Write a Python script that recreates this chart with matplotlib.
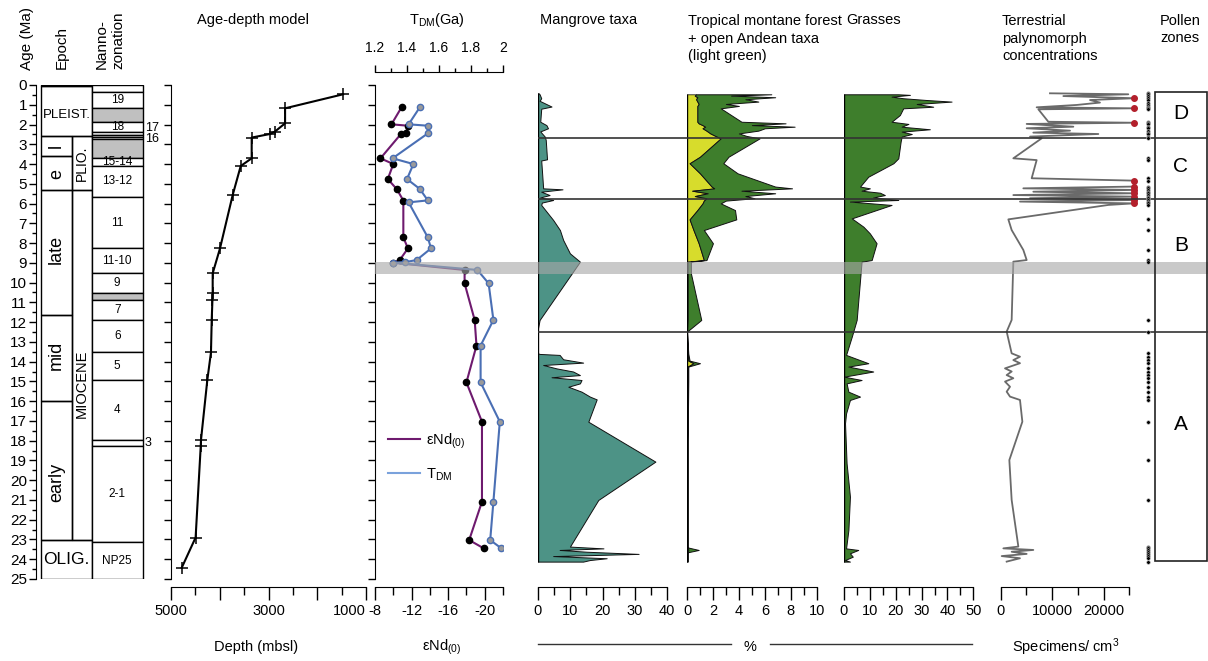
import matplotlib
matplotlib.use("Agg")
import numpy as np
import matplotlib.pyplot as plt
from matplotlib.patches import Rectangle
from matplotlib.lines import Line2D
from matplotlib.ticker import MultipleLocator, FuncFormatter

plt.rcParams['font.family'] = ['Liberation Sans', 'DejaVu Sans']
plt.rcParams['mathtext.fontset'] = 'custom'
plt.rcParams['mathtext.rm'] = 'Liberation Sans'
plt.rcParams['mathtext.it'] = 'Liberation Sans:italic'
plt.rcParams['mathtext.bf'] = 'Liberation Sans:bold'

# --- stratigraphy -----------------------------------------------------------
epoch_names = ['', 'PLEIST.', 'OLIG.', 'l', 'e', 'late', 'mid', 'early', 'PLIO.', 'MIOCENE']
epoch_top = [0.0, 0.07, 23.03, 2.58, 3.60, 5.33, 11.63, 15.97, 2.58, 5.33]
epoch_base = [0.07, 2.58, 25.0, 3.60, 5.33, 11.63, 15.97, 23.03, 5.33, 23.03]
epoch_col = ['full', 'full', 'full', 'sub', 'sub', 'sub', 'sub', 'sub', 'ser', 'ser']
epoch_label_age = [0.0, 1.5, 24.0, 3.1, 4.5, 8.3, 13.7, 20.1, 3.96, 15.1]

nanno_top = [0.0, 0.37, 1.18, 1.88, 2.39, 2.53, 2.63, 2.75, 3.71, 4.08, 5.65, 8.27, 9.53,
             10.54, 10.88, 11.89, 13.53, 14.93, 17.97, 18.27, 23.14]
nanno_base = [0.37, 1.18, 1.88, 2.39, 2.53, 2.63, 2.75, 3.71, 4.08, 5.65, 8.27, 9.53, 10.54,
              10.88, 11.89, 13.53, 14.93, 17.97, 18.27, 23.14, 25.0]
nanno_label = ['', '19', '', '18', '', '', '', '', '15-14', '13-12', '11', '11-10', '9',
               '', '7', '6', '5', '4', '', '2-1', 'NP25']
nanno_grey = [0, 0, 1, 0, 0, 0, 0, 1, 0, 0, 0, 0, 0, 1, 0, 0, 0, 0, 0, 0, 0]
nanno_side_label = ['17', '16', '3']
nanno_side_age = [2.2, 2.75, 18.1]

# --- age-depth model ----------------------------------------------------------
ad_age = [0.47, 1.18, 1.94, 2.36, 2.48, 2.66, 3.71, 4.10, 5.57, 8.27, 9.53, 10.54,
          10.88, 11.89, 13.53, 14.93, 17.97, 18.27, 22.90, 24.43]
ad_depth = [1470, 2660, 2660, 2870, 2970, 3345, 3345, 3570, 3735, 3995, 4145, 4145,
            4150, 4165, 4180, 4255, 4385, 4390, 4495, 4780]
depth_ticks = [5000, 4000, 3000, 2000, 1000]
depth_labels = ['5000', '', '3000', '', '1000']

# --- Nd isotopes ----------------------------------------------------------------
end_age = [1.13, 1.99, 2.06, 2.41, 2.50, 3.71, 4.00, 4.76, 5.28, 5.85, 7.71, 8.27,
           8.86, 8.99, 9.36, 10.04, 11.89, 13.19, 15.05, 17.04, 21.09, 23.03, 23.45]
end_val = [-10.9, -9.8, -11.6, -11.4, -10.8, -8.6, -10.0, -9.4, -10.4, -11.1, -11.1, -11.6,
           -10.7, -10.0, -17.8, -17.8, -18.9, -19.1, -18.0, -19.7, -19.7, -18.3, -19.9]
tdm_age = [1.13, 1.99, 2.06, 2.45, 3.71, 4.00, 4.76, 5.26, 5.84, 5.94, 7.71, 8.27,
           8.86, 8.96, 8.99, 9.36, 10.04, 11.89, 13.19, 15.05, 17.04, 21.09, 23.03, 23.45]
tdm_val = [1.48, 1.41, 1.53, 1.53, 1.31, 1.44, 1.40, 1.48, 1.53, 1.41, 1.53, 1.55,
           1.46, 1.39, 1.31, 1.84, 1.91, 1.94, 1.86, 1.86, 1.98, 1.94, 1.92, 1.99]

# --- pollen ---------------------------------------------------------------------
mang_age = [0.42, 0.47, 0.67, 0.80, 1.09, 1.20, 1.86, 2.03, 2.19, 2.35, 2.61, 2.78, 3.76,
            3.82, 5.23, 5.28, 5.40, 5.57, 5.69, 5.82, 5.95, 6.07, 6.83, 7.34, 7.84, 8.52,
            8.94, 11.89, 12.31, 13.58, 13.61, 13.66, 13.88, 14.05, 14.17, 14.34, 14.50,
            14.68, 14.79, 14.93, 15.10, 15.27, 15.52, 15.77, 15.91, 17.04, 19.06, 21.00,
            23.36, 23.45, 23.53, 23.62, 23.73, 23.84, 23.95, 24.04, 24.12]
mang_pct = [0.2, 0.5, 1.0, 0.5, 4.2, 1.0, 0.7, 2.6, 3.1, 0.7, 2.1, 2.4, 2.8,
            1.0, 1.6, 7.6, 1.0, 3.6, 0.7, 4.7, 1.2, 1.0, 4.7, 6.8, 7.8, 9.9,
            13.0, 0.5, 0.0, 0.0, 0.5, 6.7, 7.8, 14.0, 1.6, 5.7, 10.9,
            13.0, 4.2, 13.5, 13.0, 9.4, 13.5, 16.1, 18.2, 15.6, 36.4, 18.7,
            9.9, 20.3, 6.7, 15.1, 31.2, 4.7, 21.3, 16.1, 14.0]

mont_age = [0.47, 0.54, 0.62, 0.72, 0.84, 0.96, 1.06, 1.18, 1.86, 1.94, 2.03, 2.11, 2.19,
            2.31, 2.45, 2.58, 2.70, 3.63, 3.96, 4.47, 5.14, 5.23, 5.35, 5.48, 5.62, 5.73,
            5.85, 5.99, 6.33, 6.80, 7.34, 8.01, 8.86, 8.94, 9.53, 11.89, 12.48, 13.60,
            13.95, 14.08, 14.25, 15.0, 18.0, 21.0, 23.40, 23.53, 23.65, 24.12]
andean_pct = [0.7, 0.6, 0.8, 0.7, 0.8, 0.9, 0.8, 0.8, 0.8, 0.9, 1.2, 1.4, 1.2,
              1.5, 1.8, 2.2, 2.6, 1.0, 0.2, 1.0, 1.9, 2.1, 0.4, 1.6, 0.6, 1.5,
              1.3, 1.2, 0.8, 0.2, 0.5, 0.9, 1.3, 0.05, 0.05, 0.05, 0.0, 0.05,
              0.1, 0.5, 0.05, 0.05, 0.02, 0.02, 0.02, 0.1, 0.02, 0.02]
mont_total_pct = [6.5, 3.4, 6.8, 4.5, 5.5, 3.0, 4.0, 2.6, 4.2, 7.6, 5.0, 8.3, 6.0,
                  5.5, 4.0, 4.6, 5.6, 3.2, 2.8, 3.9, 6.8, 8.1, 4.2, 6.8, 4.5, 5.2,
                  3.0, 2.6, 3.7, 3.8, 1.3, 2.0, 1.5, 0.3, 0.3, 1.1, 0.0, 0.1,
                  0.2, 1.0, 0.1, 0.1, 0.05, 0.05, 0.05, 0.9, 0.05, 0.05]

grass_age = [0.47, 0.50, 0.59, 0.67, 0.76, 0.84, 0.96, 1.10, 1.18, 1.52, 1.86, 1.97, 2.11,
             2.24, 2.36, 2.48, 2.61, 2.87, 3.71, 3.96, 4.64, 5.14, 5.23, 5.35, 5.45, 5.57,
             5.69, 5.82, 5.90, 6.07, 6.75, 7.17, 7.51, 8.01, 8.86, 8.94, 11.89, 12.74,
             13.66, 14.08, 14.25, 14.50, 14.76, 14.93, 15.10, 15.52, 15.77, 15.94, 16.62,
             17.12, 19.14, 20.83, 22.52, 23.45, 23.53, 23.70, 23.87, 24.04, 24.12]
grass_pct = [21.0, 25.5, 18.4, 22.9, 32.0, 41.6, 28.1, 34.5, 22.9, 21.6, 18.4, 24.9, 22.3,
             33.2, 22.3, 26.2, 22.3, 21.9, 21.0, 19.1, 9.4, 6.2, 10.0, 6.8, 13.9, 15.8,
             11.3, 21.0, 2.3, 18.4, 3.0, 7.5, 10.0, 12.6, 10.7, 6.8, 4.9, 3.0,
             0.8, 9.4, 1.7, 11.3, 0.0, 6.8, 1.0, 1.7, 6.2, 2.3, 0.8,
             0.4, 1.0, 2.3, 1.7, 0.8, 5.5, 2.3, 3.4, 0.4, 2.3]

conc_age = [0.42, 0.47, 0.56, 0.67, 0.76, 0.89, 1.01, 1.13, 1.18, 1.23, 1.86, 1.91, 1.97,
            2.11, 2.19, 2.31, 2.41, 2.48, 2.61, 2.70, 3.71, 3.80, 4.72, 4.84, 5.14, 5.23,
            5.31, 5.40, 5.48, 5.57, 5.65, 5.73, 5.82, 5.90, 5.99, 6.07, 6.80, 7.34, 8.35,
            8.86, 8.94, 11.89, 12.48, 13.58, 13.75, 13.92, 14.08, 14.34, 14.50, 14.68,
            14.84, 15.01, 15.27, 15.52, 15.77, 15.94, 17.04, 18.98, 21.00, 23.36, 23.45,
            23.53, 23.62, 23.73, 23.84, 23.95, 24.12]
conc_val = [9580, 24800, 12180, 25900, 17360, 19300, 14770, 6990, 25900, 7320, 9260, 25900,
            5050, 14120, 5050, 13470, 6340, 18980, 5700, 7960, 2455, 6990, 6020, 25900,
            25900, 4400, 25900, 6340, 25900, 2455, 25900, 5700, 25900, 3750, 25900, 20920,
            1485, 2130, 4400, 5050, 2455, 2130, 1160, 2130, 3750, 2455, 3750, 836, 2130,
            1160, 2455, 836, 1810, 1160, 1810, 3750, 4210, 1680, 2130, 3430, 510, 6340,
            2130, 5050, 190, 3750, 1160]
conc_max = 25000

# --- zones -----------------------------------------------------------------------
band_age = [8.96, 9.57]
zone_bounds = [2.67, 5.77, 12.48]
zone_box = [0.37, 24.1]
zone_letters = ['D', 'C', 'B', 'A']
zone_letter_age = [1.43, 4.13, 8.1, 17.2]

# colours
TEAL = '#4d9386'
GREEN = '#3e7e2c'
YELLOW = '#d7dc2c'
PURPLE = '#6e1a6e'
BLUE = '#4a6fb4'

W, H = 1208, 661
TOP, BOT = 85, 579  # pixel rows of 0 Ma and 25 Ma

fig = plt.figure(figsize=(W / 100, H / 100), dpi=100)


def fx(px):
    return px / W


def fy(py):
    return 1 - py / H


def age_axes(x0, x1):
    ax = fig.add_axes([fx(x0), fy(BOT), (x1 - x0) / W, (BOT - TOP) / H])
    ax.set_ylim(25, 0)
    ax.patch.set_visible(False)
    for s in ['top', 'right']:
        ax.spines[s].set_visible(False)
    return ax


def bottom_axis(ax, major, minor, fmt=None):
    ax.spines['bottom'].set_position(('outward', 5.8))
    ax.xaxis.set_major_locator(MultipleLocator(major))
    ax.xaxis.set_minor_locator(MultipleLocator(minor))
    ax.tick_params(axis='x', which='major', direction='out', length=9, width=1,
                   labelsize=10.5, pad=3)
    ax.tick_params(axis='x', which='minor', direction='out', length=5.5, width=1)
    if fmt is not None:
        ax.xaxis.set_major_formatter(FuncFormatter(fmt))


def left_ticks(ax):
    ax.yaxis.set_major_locator(MultipleLocator(1))
    ax.tick_params(axis='y', which='major', direction='out', length=5, width=1,
                   labelleft=False)


# --- stratigraphic columns -----------------------------------------------------
ax_s = age_axes(36, 160)
ax_s.set_xlim(36, 160)
ax_s.spines['bottom'].set_visible(False)
ax_s.set_xticks([])
ax_s.yaxis.set_major_locator(MultipleLocator(1))
ax_s.yaxis.set_minor_locator(MultipleLocator(0.5))
ax_s.tick_params(axis='y', which='major', length=5, width=1, labelsize=11, pad=1.5)
ax_s.tick_params(axis='y', which='minor', length=3, width=1)

col_x = {'full': (41, 91.7), 'sub': (41, 71.7), 'ser': (71.7, 91.7)}
for name, t, b, c, la in zip(epoch_names, epoch_top, epoch_base, epoch_col, epoch_label_age):
    x0, x1 = col_x[c]
    ax_s.add_patch(Rectangle((x0, t), x1 - x0, b - t, fill=False, lw=1, ec='black'))
    if name:
        rot = 0 if c == 'full' else 90
        size = {'PLEIST.': 9.5, 'OLIG.': 12.5, 'PLIO.': 10, 'MIOCENE': 10.5}.get(name, 13)
        ax_s.text((x0 + x1) / 2, la, name, rotation=rot, ha='center', va='center',
                  fontsize=size)

for t, b, lab, g in zip(nanno_top, nanno_base, nanno_label, nanno_grey):
    ax_s.add_patch(Rectangle((91.7, t), 51, b - t, lw=1, ec='black',
                             fc='#c0c0c0' if g else 'white'))
    if lab:
        ax_s.text(117.2, (t + b) / 2, lab, ha='center', va='center', fontsize=8.5)
for lab, a in zip(nanno_side_label, nanno_side_age):
    ax_s.text(145, a, lab, ha='left', va='center', fontsize=9, clip_on=False)

# --- age-depth model -------------------------------------------------------------
ax_ad = age_axes(171, 366)
ax_ad.set_xlim(5000, 1000)
ax_ad.plot(ad_depth, ad_age, color='black', lw=1.5, marker='+', ms=8, mew=1.1)
left_ticks(ax_ad)
bottom_axis(ax_ad, 1000, 500)
ax_ad.set_xticks(depth_ticks, depth_labels)
ax_ad.get_xticklabels()[-1].set_ha('right')

# --- Nd isotopes -----------------------------------------------------------------
ax_n = age_axes(375, 503)
ax_n.set_xlim(-8, -22)
ax_n.plot(end_val, end_age, color=PURPLE, lw=1.5, marker='o', ms=4.5,
          mfc='black', mec='black', zorder=3)
left_ticks(ax_n)
bottom_axis(ax_n, 4, 2, lambda v, p: f'{v:.0f}')
fig.canvas.draw()
ax_n.get_xticklabels()[0].set_ha('left')

ax_t = ax_n.twiny()
ax_t.set_xlim(1.2, 2.0)
ax_t.plot(tdm_val, tdm_age, color=BLUE, lw=1.5, marker='o', ms=4.5,
          mfc='#9a9a9a', mec=BLUE, mew=1, zorder=4)
for s in ['left', 'right', 'bottom']:
    ax_t.spines[s].set_visible(False)
ax_t.spines['top'].set_position(('outward', 9.4))
ax_t.xaxis.set_major_locator(MultipleLocator(0.2))
ax_t.xaxis.set_minor_locator(MultipleLocator(0.1))
ax_t.xaxis.set_major_formatter(FuncFormatter(lambda v, p: f'{v:g}'))
ax_t.tick_params(axis='x', which='major', direction='out', length=5, width=1,
                 labelsize=10, pad=7)
ax_t.tick_params(axis='x', which='minor', direction='out', length=3, width=1)

leg = ax_n.legend([Line2D([], [], color=PURPLE, lw=1.5), Line2D([], [], color='#7aa2dc', lw=1.5)],
                  ['εNd$_{(0)}$', 'T$_{\\mathrm{DM}}$'], loc='upper left',
                  bbox_to_anchor=(0.0, 0.325), frameon=False, fontsize=10.5,
                  handlelength=2.2, handletextpad=0.4, labelspacing=1.05)

# --- pollen panels ---------------------------------------------------------------
ax_m = age_axes(538, 667)
ax_m.set_xlim(0, 40)
ax_m.fill_betweenx(mang_age, 0, mang_pct, fc=TEAL, ec='#111111', lw=0.7)
ax_m.vlines(0, mang_age[0], mang_age[-1], color='black', lw=1)
ax_m.spines['left'].set_visible(False)
ax_m.set_yticks([])
bottom_axis(ax_m, 10, 5)

ax_o = age_axes(687, 816.7)
ax_o.set_xlim(0, 10)
ax_o.fill_betweenx(mont_age, 0, andean_pct, fc=YELLOW, ec='#222222', lw=0.6)
ax_o.fill_betweenx(mont_age, andean_pct, mont_total_pct, fc=GREEN, ec='#111111', lw=0.7)
ax_o.vlines(0, mont_age[0], mont_age[-1], color='black', lw=1)
ax_o.spines['left'].set_visible(False)
ax_o.set_yticks([])
bottom_axis(ax_o, 2, 1)

ax_g = age_axes(844, 973.3)
ax_g.set_xlim(0, 50)
ax_g.fill_betweenx(grass_age, 0, grass_pct, fc=GREEN, ec='#111111', lw=0.7)
ax_g.vlines(0, grass_age[0], grass_age[-1], color='black', lw=1)
ax_g.spines['left'].set_visible(False)
ax_g.set_yticks([])
bottom_axis(ax_g, 10, 5)

ax_c = age_axes(1000.7, 1129.3)
ax_c.set_xlim(0, conc_max)
ax_c.plot(conc_val, conc_age, color='#6a6a6a', lw=1.3, clip_on=False)
over = np.array(conc_val) > conc_max
ax_c.plot(np.array(conc_val)[over], np.array(conc_age)[over], 'o', color='#b3202c',
          ms=4, clip_on=False)
ax_c.spines['left'].set_visible(False)
ax_c.set_yticks([])
bottom_axis(ax_c, 10000, 5000, lambda v, p: f'{v:.0f}')

# --- overlay: grey band, zone lines, zone box, sample dots ------------------------
ov = fig.add_axes([0, fy(BOT), 1, (BOT - TOP) / H], zorder=10)
ov.set_xlim(0, W)
ov.set_ylim(25, 0)
ov.axis('off')
ov.fill_between([375, W], band_age[0], band_age[1], color='#a8a8a8', alpha=0.62, lw=0)
ov.hlines(zone_bounds, 538, W, color='#333333', lw=1.2)
ov.add_patch(Rectangle((1155, zone_box[0]), W - 1 - 1155, zone_box[1] - zone_box[0],
                       fill=False, ec='#222222', lw=1.2))
for lt, a in zip(zone_letters, zone_letter_age):
    ov.text(1181, a, lt, ha='center', va='center', fontsize=15)
ov.plot(np.full(len(conc_age), 1148), conc_age, 'o', ms=2.6, mfc='black', mec='#bbbbbb',
        mew=0.4)

# --- header and axis labels ------------------------------------------------------
fig.text(fx(27), fy(70), 'Age (Ma)', rotation=90, ha='center', va='bottom', fontsize=11)
fig.text(fx(62), fy(69), 'Epoch', rotation=90, ha='center', va='bottom', fontsize=11)
fig.text(fx(102), fy(69), 'Nanno-', rotation=90, ha='center', va='bottom', fontsize=11)
fig.text(fx(118), fy(69), 'zonation', rotation=90, ha='center', va='bottom', fontsize=11)

fig.text(fx(253), fy(20), 'Age-depth model', ha='center', va='center', fontsize=10.5)
fig.text(fx(437), fy(20), 'T$_{\\mathrm{DM}}$(Ga)', ha='center', va='center', fontsize=10.5)
fig.text(fx(540), fy(20), 'Mangrove taxa', ha='left', va='center', fontsize=10.5)
for i, line in enumerate(['Tropical montane forest', '+ open Andean taxa', '(light green)']):
    fig.text(fx(688), fy(21 + 17.5 * i), line, ha='left', va='center', fontsize=10.5)
fig.text(fx(846), fy(20), 'Grasses', ha='left', va='center', fontsize=10.5)
for i, line in enumerate(['Terrestrial', 'palynomorph', 'concentrations']):
    fig.text(fx(1002), fy(21 + 17.5 * i), line, ha='left', va='center', fontsize=10.5)
for i, line in enumerate(['Pollen', 'zones']):
    fig.text(fx(1160), fy(21 + 17.5 * i), line, ha='left', va='center', fontsize=10.5)

fig.text(fx(256), fy(647), 'Depth (mbsl)', ha='center', va='center', fontsize=10.5)
fig.text(fx(442), fy(647), 'εNd$_{(0)}$', ha='center', va='center', fontsize=10.5)
fig.text(fx(750), fy(647), '%', ha='center', va='center', fontsize=10.5)
fig.text(fx(1066), fy(647), 'Specimens/ cm$^3$', ha='center', va='center', fontsize=10.5)
fig.add_artist(Line2D([fx(538), fx(731)], [fy(644), fy(644)], color='#333333', lw=1))
fig.add_artist(Line2D([fx(770), fx(972)], [fy(644), fy(644)], color='#333333', lw=1))

fig.savefig('out.png', dpi=100)
